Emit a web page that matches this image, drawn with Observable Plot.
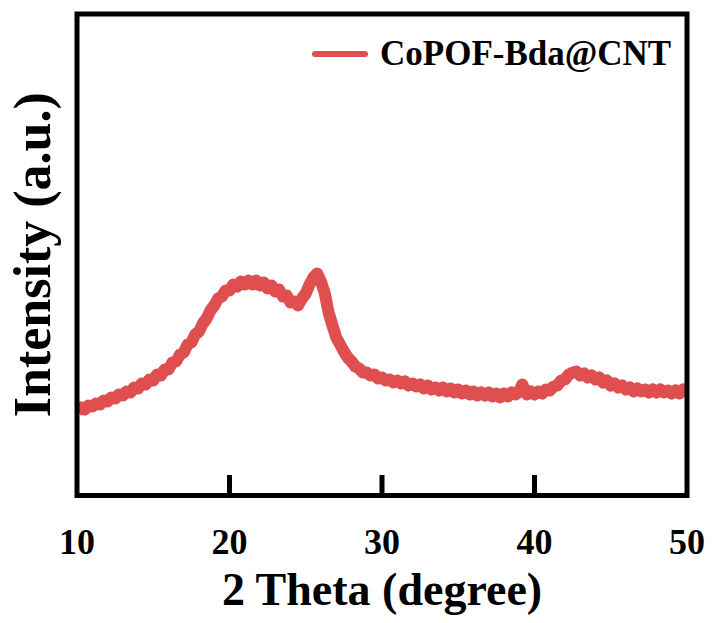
<!DOCTYPE html>
<html>
<head>
<meta charset="utf-8">
<script src="https://cdn.jsdelivr.net/npm/d3@7"></script>
<script src="https://cdn.jsdelivr.net/npm/@observablehq/plot@0.6"></script>
<style>
  html, body { margin: 0; padding: 0; background: #fff; }
  #wrap { position: relative; width: 715px; height: 623px; font-family: "Liberation Serif", "Times New Roman", serif; }
  #legend { position: absolute; left: 312px; top: 36px; display: flex; align-items: center; }
  #legend .sw { width: 56px; height: 6px; background: #df4f4f; border-radius: 3px; margin-right: 12px; }
  #legend .lb { font-size: 35px; font-weight: bold; color: #000; line-height: 1; }
</style>
</head>
<body>
<div id="wrap">
  <div id="chart"></div>
  <div id="legend"><div class="sw"></div><div class="lb">CoPOF-Bda@CNT</div></div>
</div>
<script>
const seriesName = "CoPOF-Bda@CNT";
const xLabel = "2 Theta (degree)";
const yLabel = "Intensity (a.u.)";
const xTicks = [10, 20, 30, 40, 50];
const innerTicks = [20, 30, 40];

const twoTheta = [
  10.00,10.25,10.50,10.75,11.00,11.25,11.50,11.75,12.00,12.25,12.50,12.75,13.00,13.25,13.50,13.75,
  14.00,14.25,14.50,14.75,15.00,15.25,15.50,15.75,16.00,16.25,16.50,16.75,17.00,17.25,17.50,17.75,
  18.00,18.25,18.50,18.75,19.00,19.25,19.50,19.75,20.00,20.25,20.50,20.75,21.00,21.25,21.50,21.75,
  22.00,22.25,22.50,22.75,23.00,23.25,23.50,23.75,24.00,24.25,24.50,24.75,25.00,25.25,25.50,25.75,
  26.00,26.25,26.50,26.75,27.00,27.25,27.50,27.75,28.00,28.25,28.50,28.75,29.00,29.25,29.50,29.75,
  30.00,30.25,30.50,30.75,31.00,31.25,31.50,31.75,32.00,32.25,32.50,32.75,33.00,33.25,33.50,33.75,
  34.00,34.25,34.50,34.75,35.00,35.25,35.50,35.75,36.00,36.25,36.50,36.75,37.00,37.25,37.50,37.75,
  38.00,38.25,38.50,38.75,39.00,39.20,39.40,39.50,39.75,40.00,40.25,40.50,40.75,41.00,41.25,41.50,
  41.75,42.00,42.25,42.50,42.75,43.00,43.25,43.50,43.75,44.00,44.25,44.50,44.75,45.00,45.25,45.50,
  45.75,46.00,46.25,46.50,46.75,47.00,47.25,47.50,47.75,48.00,48.25,48.50,48.75,49.00,49.25,49.50,
  49.75,50.00
];
const intensity = [
  84,88,86,90,89,92,91,95,94,98,97,101,100,104,103,108,
  107,112,111,116,115,121,120,126,126,133,134,141,143,151,153,161,
  164,172,177,185,190,197,199,205,205,211,209,214,211,215,211,215,
  210,213,207,210,204,206,199,200,193,194,190,197,202,211,218,222,
  214,202,183,170,158,151,144,138,134,129,127,123,123,120,121,117,
  118,115,116,113,115,112,114,110,112,109,111,107,110,106,108,105,
  108,104,107,103,106,102,105,101,104,100,103,100,103,99,102,98,
  102,99,103,101,104,111,104,101,104,101,104,102,106,105,109,110,
  115,116,121,123,124,120,122,118,120,116,118,113,115,110,112,108,
  110,106,108,104,107,104,106,103,106,103,106,103,105,102,105,102,
  106,104
];

const data = twoTheta.map((x, i) => ({x, y: intensity[i]}));
const font = '"Liberation Serif", "Times New Roman", serif';

const chart = Plot.plot({
  width: 715,
  height: 623,
  marginLeft: 76.5,
  marginRight: 28.5,
  marginTop: 13.5,
  marginBottom: 128,
  style: {fontFamily: font, background: "#fff", color: "#000", overflow: "visible"},
  x: {domain: [10, 50], label: null},
  y: {domain: [0, 481.5], axis: null},
  marks: [
    Plot.line(data, {x: "x", y: "y", stroke: "#df4f4f", strokeWidth: 12, strokeLinejoin: "round", strokeLinecap: "butt", clip: true}),
    Plot.axisX(innerTicks, {tickSize: -20, strokeWidth: 5, stroke: "#000", fill: "none", label: null}),
    Plot.axisX(xTicks, {tickSize: 0, tickPadding: 33, fontSize: 36, fontWeight: "bold", fill: "#000", label: null}),
    Plot.text([xLabel], {frameAnchor: "bottom", dy: 109, fontSize: 46, fontWeight: "bold", fill: "#000"}),
    Plot.text([yLabel], {frameAnchor: "left", textAnchor: "middle", rotate: -90, dx: -44, fontSize: 52, fontWeight: "bold", fill: "#000"}),
    Plot.frame({stroke: "#000", strokeWidth: 5})
  ]
});
document.getElementById("chart").appendChild(chart);
</script>
</body>
</html>
